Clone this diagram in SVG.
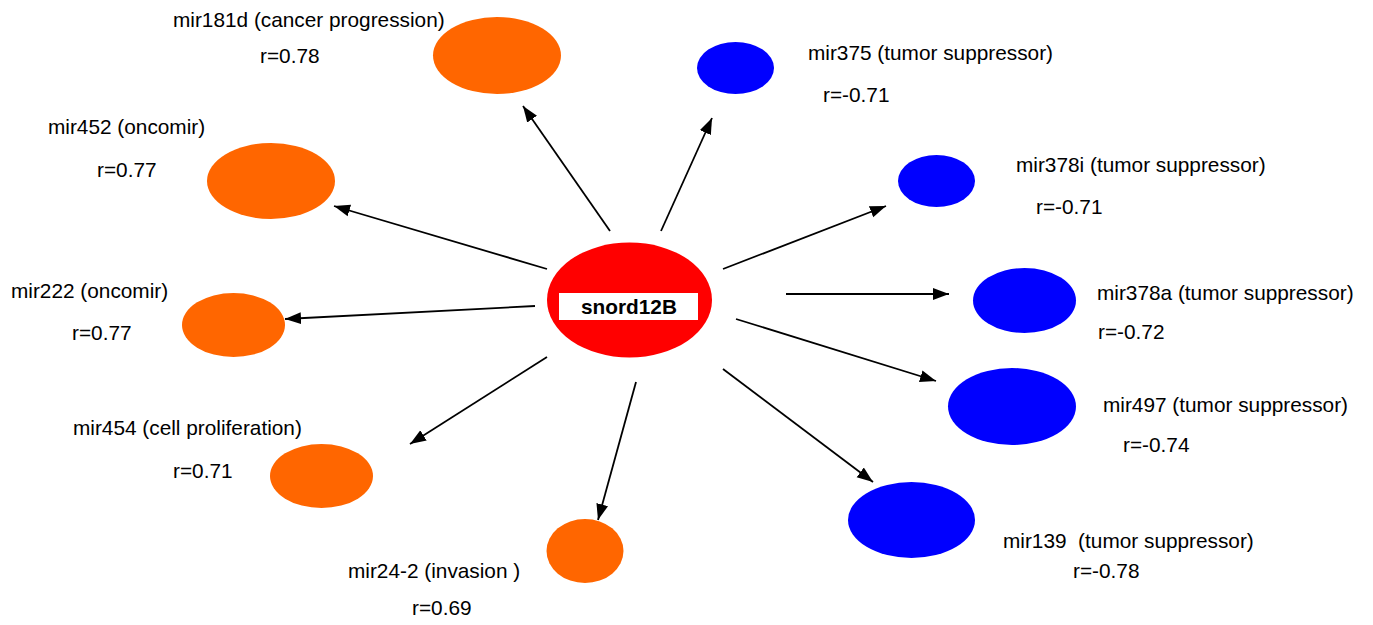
<svg xmlns="http://www.w3.org/2000/svg" width="1373" height="625" viewBox="0 0 1373 625">
<style>
text{font-family:"Liberation Sans",Arial,sans-serif;font-size:20.8px;fill:#000}
.o{fill:#FF6600}
.b{fill:#0000FF}
.c{fill:#FF0000}
.e line{stroke:#000;stroke-width:1.8;marker-end:url(#ah)}
.lb{font-weight:bold}
</style>
<defs>
<marker id="ah" markerUnits="userSpaceOnUse" markerWidth="17" markerHeight="13" refX="16" refY="6" orient="auto" viewBox="0 0 17 12">
<path d="M0,0 L16,6 L0,12 z" fill="#000"/>
</marker>
</defs>
<rect width="1373" height="625" fill="#fff"/>
<g id="connectors" class="e">
<line x1="610" y1="231" x2="523" y2="106"/>
<line x1="547" y1="269" x2="334" y2="206"/>
<line x1="535" y1="306" x2="285" y2="319"/>
<line x1="547" y1="357" x2="410" y2="444"/>
<line x1="636" y1="382" x2="598" y2="520"/>
<line x1="661" y1="231" x2="712" y2="118"/>
<line x1="723" y1="269" x2="886" y2="206"/>
<line x1="786" y1="294" x2="949" y2="294"/>
<line x1="736" y1="319" x2="936" y2="381"/>
<line x1="723" y1="369" x2="873" y2="482"/>
</g>
<g id="snord12B">
<ellipse class="c" cx="629.5" cy="300" rx="82.5" ry="57.5"/>
<rect x="559" y="293" width="139" height="27" fill="#fff"/>
<text class="lb" x="629" y="314" text-anchor="middle">snord12B</text>
</g>
<g id="mir181d">
<ellipse class="o" cx="497" cy="55.5" rx="64" ry="38.5"/>
<text x="173" y="27">mir181d (cancer progression)</text>
<text x="260" y="63">r=0.78</text>
</g>
<g id="mir452">
<ellipse class="o" cx="271" cy="181" rx="64" ry="38"/>
<text x="48" y="134">mir452 (oncomir)</text>
<text x="97" y="177">r=0.77</text>
</g>
<g id="mir222">
<ellipse class="o" cx="233.5" cy="325" rx="51.5" ry="32"/>
<text x="11" y="298">mir222 (oncomir)</text>
<text x="72" y="340">r=0.77</text>
</g>
<g id="mir454">
<ellipse class="o" cx="321.5" cy="476" rx="51.5" ry="32"/>
<text x="73" y="435">mir454 (cell proliferation)</text>
<text x="173" y="478">r=0.71</text>
</g>
<g id="mir24-2">
<ellipse class="o" cx="585" cy="551" rx="38.5" ry="32"/>
<text x="348" y="578">mir24-2 (invasion )</text>
<text x="412" y="615">r=0.69</text>
</g>
<g id="mir375">
<ellipse class="b" cx="735.5" cy="68" rx="38.5" ry="26"/>
<text x="808" y="60">mir375 (tumor suppressor)</text>
<text x="823" y="102">r=-0.71</text>
</g>
<g id="mir378i">
<ellipse class="b" cx="936.5" cy="181" rx="38.5" ry="26"/>
<text x="1016" y="172">mir378i (tumor suppressor)</text>
<text x="1036" y="214">r=-0.71</text>
</g>
<g id="mir378a">
<ellipse class="b" cx="1024.5" cy="300.5" rx="51.5" ry="32.5"/>
<text x="1097" y="300">mir378a (tumor suppressor)</text>
<text x="1098" y="339">r=-0.72</text>
</g>
<g id="mir497">
<ellipse class="b" cx="1012" cy="406.5" rx="64" ry="38.5"/>
<text x="1103" y="412">mir497 (tumor suppressor)</text>
<text x="1123" y="452">r=-0.74</text>
</g>
<g id="mir139">
<ellipse class="b" cx="911.5" cy="520" rx="63.5" ry="38"/>
<text x="1003" y="548" xml:space="preserve">mir139  (tumor suppressor)</text>
<text x="1073" y="578">r=-0.78</text>
</g>
</svg>
